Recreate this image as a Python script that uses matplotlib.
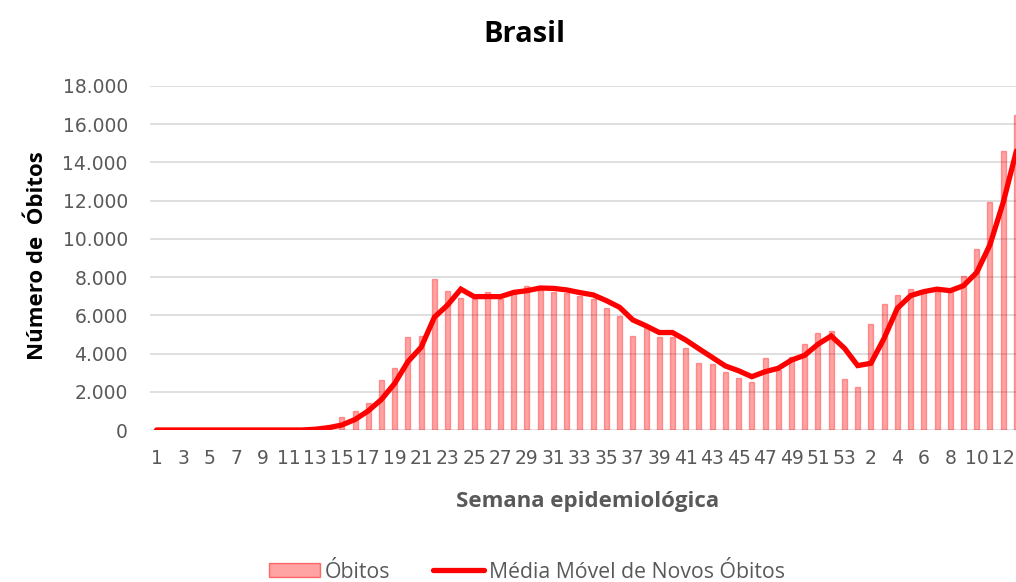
import matplotlib
matplotlib.use("Agg")
import matplotlib.pyplot as plt
import numpy as np
from matplotlib.patches import Patch
from matplotlib.lines import Line2D

plt.rcParams['font.family'] = ['Open Sans', 'DejaVu Sans']

# categories: epidemiological weeks 2020 (1-53) then 2021 (1-13)
weeks = [str(w) for w in range(1, 54)] + [str(w) for w in range(1, 14)]

obitos = [0, 0, 0, 0, 0, 0, 0, 0, 0, 0, 0, 10,
          50, 250, 680, 1000, 1400, 2600, 3260, 4850, 4900, 7900,
          7290, 6930, 6840, 7240, 6840, 7290, 7540, 7330, 7240, 7160,
          7000, 6840, 6370, 5980, 4900, 5320, 4880, 4880, 4310, 3490,
          3440, 3050, 2740, 2530, 3790, 3140, 3800, 4500, 5060, 5180, 2670,
          2240, 5550, 6610, 7070, 7400, 7200, 7240, 7290, 8060, 9490,
          11950, 14620, 16500]

media_movel = [0, 0, 0, 0, 0, 0, 0, 0, 0, 0, 0, 0,
               40, 120, 260, 550, 1000, 1600, 2440, 3580, 4330, 5900,
               6540, 7370, 6980, 6980, 6980, 7200, 7290, 7430, 7410, 7330,
               7190, 7070, 6770, 6420, 5760, 5450, 5100, 5100, 4710, 4250,
               3800, 3350, 3100, 2790, 3050, 3230, 3660, 3910, 4490, 4920, 4280,
               3370, 3490, 4800, 6370, 7030, 7240, 7370, 7290, 7550, 8240,
               9690, 11900, 14600]

y_ticks = [0, 2000, 4000, 6000, 8000, 10000, 12000, 14000, 16000, 18000]
y_tick_labels = ['0', '2.000', '4.000', '6.000', '8.000', '10.000', '12.000',
                 '14.000', '16.000', '18.000']

W, H = 1016, 582
fig = plt.figure(figsize=(W / 100, H / 100), dpi=100)
ax = fig.add_axes([150 / W, (H - 430) / H, 873 / W, 344 / H])

x = np.arange(len(weeks))
gray = '#595959'

ax.bar(x, obitos, width=0.38, facecolor=(1, 0, 0, 0.36),
       edgecolor=(1, 0, 0, 0.35), linewidth=1.0, zorder=2)
ax.plot(x, media_movel, color='#FF0000', linewidth=3.8,
        solid_capstyle='round', solid_joinstyle='miter', zorder=3)

ax.set_xlim(-0.5, len(weeks) - 0.5)
ax.set_ylim(0, 18000)
ax.set_yticks(y_ticks)
ax.set_yticklabels(y_tick_labels)
ax.set_xticks(x[::2])
ax.set_xticklabels(weeks[::2])
ax.tick_params(axis='both', length=0, labelsize=13.5, labelcolor=gray)
ax.tick_params(axis='y', pad=16)
ax.tick_params(axis='x', pad=14)
for lab in ax.get_xticklabels() + ax.get_yticklabels():
    lab.set_family('DejaVu Sans')
ax.grid(axis='y', color='#D9D9D9', linewidth=1.2, zorder=0)
ax.set_axisbelow(True)
for s in ax.spines.values():
    s.set_visible(False)

fig.text(524 / W, 1 - 34 / H, 'Brasil', ha='center', va='center',
         fontsize=21, fontweight='bold', color='black')
fig.text(38 / W, 1 - 256 / H, 'Número de  Óbitos', ha='center', va='center',
         rotation=90, fontsize=16, fontweight='bold', color='black')
fig.text(588 / W, 1 - 502 / H, 'Semana epidemiológica', ha='center',
         va='center', fontsize=16, fontweight='bold', color=gray)

handles = [Patch(facecolor=(1, 0, 0, 0.36), edgecolor=(1, 0, 0, 0.5), linewidth=1.0),
           Line2D([0], [0], color='#FF0000', linewidth=3.8, solid_capstyle='round')]
leg = fig.legend(handles, ['Óbitos', 'Média Móvel de Novos Óbitos'],
                 loc='center', bbox_to_anchor=(527 / W, 1 - 572 / H), ncol=2,
                 frameon=False, fontsize=15.3, handlelength=2.4,
                 handletextpad=0.25, columnspacing=2.0, handleheight=0.65,
                 borderpad=0.2)
for t in leg.get_texts():
    t.set_color(gray)

fig.savefig('out.png', dpi=100)
